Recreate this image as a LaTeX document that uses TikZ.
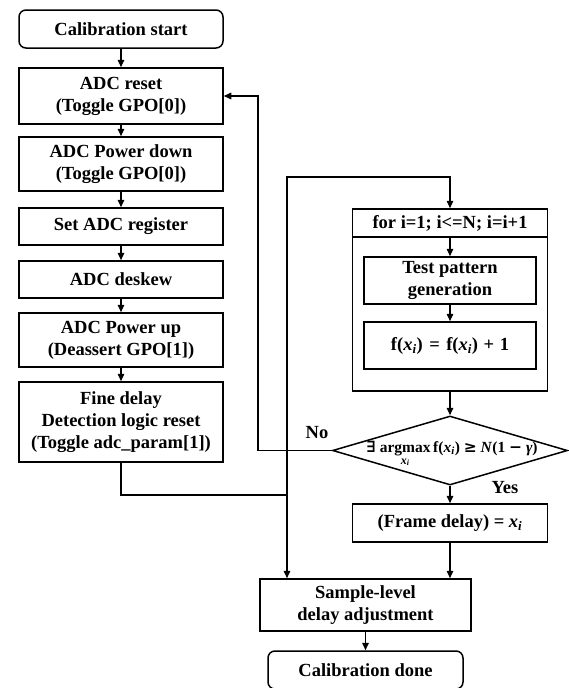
\documentclass[tikz,border=0pt]{standalone}
\usepackage{amsmath}
\usepackage{fontspec}
\setmainfont{Liberation Serif}
\newfontfamily\dvserif{DejaVu Serif}
\usetikzlibrary{arrows.meta,shapes.geometric}
\newcommand{\vx}{\textbf{\textit{x}}\textsubscript{\textbf{\textit{i}}}}

\begin{document}
\begin{tikzpicture}[x=1pt,y=-1pt,line width=1.5pt,
  box/.style={draw,fill=white,minimum width=204pt,inner sep=0pt,align=center,font=\fontsize{18.5}{22}\selectfont\bfseries},
  term/.style={box,rounded corners=7pt},
  decision/.style={draw,fill=white,diamond,minimum width=235pt,minimum height=69pt,inner sep=0pt},
  arr/.style={-{Triangle[length=7.5pt,width=6.5pt]}},
  lbl/.style={font=\fontsize{18.5}{22}\selectfont\bfseries}]
  \useasboundingbox (0,0) rectangle (569,688);
  \node[term,minimum height=38pt] (start) at (121,29) {Calibration start};
  \node[box,minimum height=56pt] (reset) at (121,96) {ADC reset\\(Toggle GPO[0])};
  \node[box,minimum height=54pt] (pdown) at (121,164) {ADC Power down\\(Toggle GPO[0])};
  \node[box,minimum height=37pt] (setreg) at (121,226.5) {Set ADC register};
  \node[box,minimum height=37pt] (deskew) at (121,279.5) {ADC deskew};
  \node[box,minimum height=54pt] (pup) at (121,340) {ADC Power up\\(Deassert GPO[1])};
  \node[box,minimum height=80pt] (fine) at (121,422) {Fine delay\\Detection logic reset\\(Toggle adc\_param[1])};

  \node[draw,minimum width=195pt,minimum height=154pt] (body) at (450,314) {};
  \node[box,minimum width=195pt,minimum height=28pt] (hdr) at (450,223) {for i=1; i<=N; i=i+1};
  \node[box,minimum width=172pt,minimum height=47pt] (test) at (450,280.5) {Test pattern\\generation};
  \node[box,minimum width=172pt,minimum height=47pt] (fcount) at (450,345.5) {f(\vx)\hspace{0.35em}=\hspace{0.35em}f(\vx)\hspace{0.3em}+\hspace{0.3em}1};
  \node[decision] (dia) at (450,450.5) {};
  \node[font=\fontsize{15.5}{18}\selectfont\bfseries,inner sep=0pt] (diatext) at (452,454) {{\dvserif\bfseries ∃} $\displaystyle\mathop{\hbox{argmax}}\limits_{\hbox{\fontsize{12}{13}\selectfont\bfseries\vx}}$\,f(\vx) {\dvserif\bfseries ≥} \textit{N}(1 {\dvserif\bfseries −} \textit{γ})};
  \node[box,minimum width=195pt,minimum height=38pt] (frame) at (450,523) {(Frame delay) = \vx};
  \node[box,minimum width=211pt,minimum height=52pt] (sample) at (365.5,605) {Sample-level\\delay adjustment};
  \node[term,minimum width=195pt,minimum height=38pt] (done) at (365.5,670) {Calibration done};
  \node[lbl] (nolbl) at (317,433) {No};
  \node[lbl] (yeslbl) at (505,488) {Yes};

  \coordinate (jn) at (287,495);
  \coordinate (up) at (287,177);
  \coordinate (back) at (258,96);

  \foreach \a/\b in {start/reset,reset/pdown,pdown/setreg,setreg/deskew,deskew/pup,pup/fine,hdr/test,test/fcount,body/dia,dia/frame,sample/done}
    \draw[arr] (\a.south) -- (\b.north);
  \draw[arr] (frame.south) -- (frame.south |- sample.north);
  \draw (fine.south) |- (jn);
  \draw[arr] (jn) -- (up) -| (hdr.north);
  \draw[arr] (jn) -- (jn |- sample.north);
  \draw[arr] (dia.west) -| (back) -- (reset.east);
\end{tikzpicture}
\end{document}
